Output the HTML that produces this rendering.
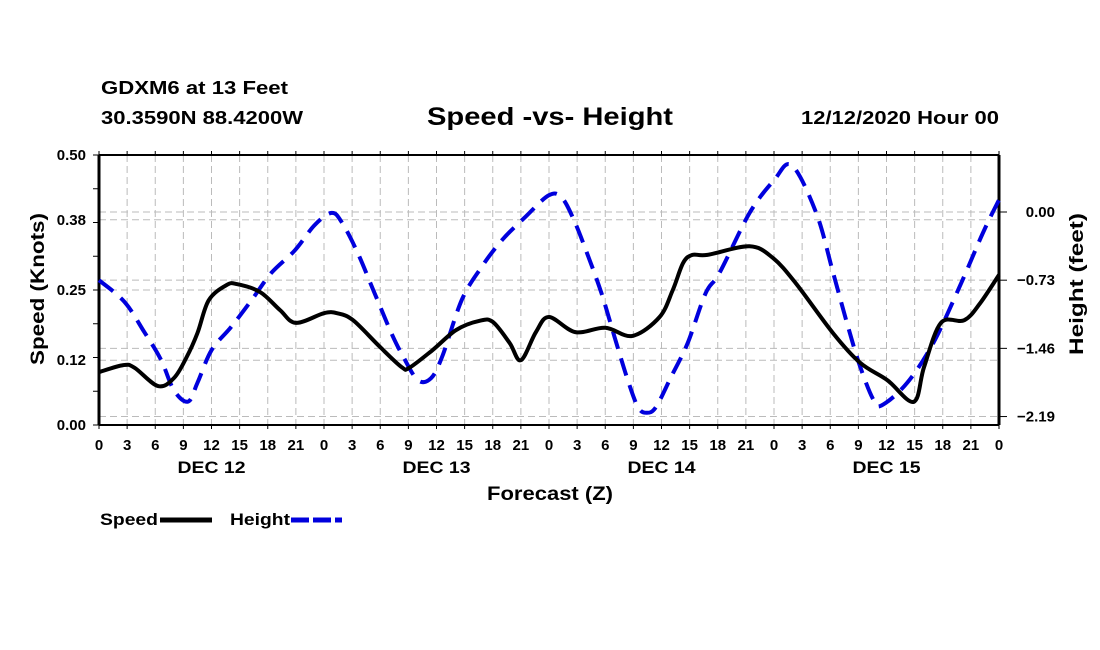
<!DOCTYPE html>
<html><head><meta charset="utf-8">
<style>
html,body{margin:0;padding:0;background:#fff;}
svg{display:block;font-family:"Liberation Sans",Arial,sans-serif;}
</style></head>
<body>
<svg id="chart" width="1100" height="650" viewBox="0 0 1100 650">
<g id="grid"></g>
<g id="axes"></g>
<g id="series"></g>
<text x="101" y="94" font-size="18" font-weight="bold" textLength="187" lengthAdjust="spacingAndGlyphs">GDXM6 at 13 Feet</text>
<text x="101" y="124" font-size="18" font-weight="bold" textLength="202" lengthAdjust="spacingAndGlyphs">30.3590N 88.4200W</text>
<text x="427" y="125" font-size="25" font-weight="bold" textLength="246" lengthAdjust="spacingAndGlyphs">Speed -vs- Height</text>
<text x="801" y="124" font-size="18" font-weight="bold" textLength="198" lengthAdjust="spacingAndGlyphs">12/12/2020 Hour 00</text>
<text transform="translate(44,289) rotate(-90)" font-size="19" font-weight="bold" text-anchor="middle" textLength="152" lengthAdjust="spacingAndGlyphs">Speed (Knots)</text>
<text transform="translate(1083,284) rotate(-90)" font-size="19" font-weight="bold" text-anchor="middle" textLength="142" lengthAdjust="spacingAndGlyphs">Height (feet)</text>
<text x="550" y="500" font-size="19" font-weight="bold" text-anchor="middle" textLength="126" lengthAdjust="spacingAndGlyphs">Forecast (Z)</text>
<g>
<text x="100" y="525" font-size="17" font-weight="bold" textLength="58" lengthAdjust="spacingAndGlyphs">Speed</text>
<line x1="160" y1="520" x2="212" y2="520" stroke="#000" stroke-width="5"/>
<text x="230" y="525" font-size="17" font-weight="bold" textLength="60" lengthAdjust="spacingAndGlyphs">Height</text>
<line x1="291" y1="520" x2="342" y2="520" stroke="#0000dd" stroke-width="5" stroke-dasharray="18 4"/>
</g>
</svg>
<script>
const speedHours = [0,2.6,3.8,6.3,8,9.3,10.5,11.7,13.6,14.7,17.2,19.3,21,24,25.4,27.1,30,32.3,33.1,35.6,38.1,40.6,42,43.8,45,46.6,48,50.8,54,56.9,59.8,61.2,62.3,63.3,64.9,69.4,71.9,74.3,78.3,81.2,84.1,86.9,88,89.8,92.3,94,96];
const speedValues = [0.098,0.111,0.106,0.072,0.087,0.124,0.170,0.231,0.259,0.261,0.246,0.213,0.189,0.207,0.207,0.194,0.144,0.107,0.106,0.139,0.176,0.193,0.191,0.152,0.120,0.172,0.200,0.172,0.180,0.165,0.200,0.250,0.300,0.315,0.315,0.331,0.309,0.263,0.170,0.115,0.083,0.043,0.107,0.189,0.194,0.226,0.278];
const heightHours = [0,2.7,4.8,6.6,8,9.5,10.5,12,14.1,16.3,18.4,20.9,23,24.8,25.9,27.6,29.4,31.2,32.4,34,35.4,36.6,38.7,40.8,43,45.5,48,49.4,50.8,52.2,53.6,55,56.4,57.5,58.4,59.4,61,62.8,64.7,66.2,69.4,72,73.9,76.5,78.3,79.9,81.2,82.6,83.5,86.2,89,91.8,94.3,96];
const heightValues = [-0.73,-0.96,-1.28,-1.58,-1.91,-2.03,-1.83,-1.48,-1.23,-0.94,-0.65,-0.41,-0.14,-0.01,-0.11,-0.44,-0.87,-1.30,-1.54,-1.80,-1.78,-1.55,-0.94,-0.59,-0.30,-0.05,0.18,0.15,-0.12,-0.48,-0.87,-1.34,-1.80,-2.09,-2.15,-2.09,-1.77,-1.40,-0.87,-0.65,-0.01,0.34,0.50,-0.01,-0.65,-1.23,-1.66,-2.01,-2.07,-1.83,-1.40,-0.80,-0.22,0.13];
const leftTicks = [0.00,0.12,0.25,0.38,0.50];
const leftTickLabels = ["0.00","0.12","0.25","0.38","0.50"];
const rightTicks = [0.00,-0.73,-1.46,-2.19];
const rightTickLabels = ["0.00","\u22120.73","\u22121.46","\u22122.19"];
const xTickLabels = ["0","3","6","9","12","15","18","21","0","3","6","9","12","15","18","21","0","3","6","9","12","15","18","21","0","3","6","9","12","15","18","21","0"];
const dayLabels = ["DEC 12","DEC 13","DEC 14","DEC 15"];

const NS='http://www.w3.org/2000/svg';
const X0=99,X1=999,Y0=155,Y1=425;
const xs=h=>X0+(X1-X0)*h/96;
const ys=v=>Y1-(Y1-Y0)*v/0.5;
const yh=f=>212-93.4*f;
function mk(tag,attrs,parent){const e=document.createElementNS(NS,tag);for(const k in attrs)e.setAttribute(k,attrs[k]);parent.appendChild(e);return e;}
const grid=document.getElementById('grid'),axes=document.getElementById('axes'),series=document.getElementById('series');

for(let i=1;i<32;i++){
  const l=mk('line',{x1:xs(i*3),x2:xs(i*3),y1:Y0,y2:Y1,stroke:'#bbb','stroke-width':1,'stroke-dasharray':'7 4'},grid);
  
  
}
leftTicks.forEach(v=>{if(v>0&&v<0.5){const l=mk('line',{x1:X0,x2:X1,y1:ys(v),y2:ys(v),stroke:'#bbb','stroke-width':1,'stroke-dasharray':'7 4'},grid);
  
  }});
rightTicks.forEach(v=>{const l=mk('line',{x1:X0,x2:X1,y1:yh(v),y2:yh(v),stroke:'#bbb','stroke-width':1,'stroke-dasharray':'7 4'},grid);
  
  });

let f=mk('line',{x1:X0,x2:X1,y1:Y0,y2:Y0,stroke:'#000','stroke-width':2},axes);

f=mk('line',{x1:X0,x2:X1,y1:Y1,y2:Y1,stroke:'#000','stroke-width':2},axes);

f=mk('line',{x1:X0,x2:X0,y1:Y0,y2:Y1,stroke:'#000','stroke-width':3},axes);

f=mk('line',{x1:X1,x2:X1,y1:Y0,y2:Y1,stroke:'#000','stroke-width':3},axes);


for(let i=0;i<=8;i++){const v=i*0.0625;mk('line',{x1:X0-6,x2:X0,y1:ys(v),y2:ys(v),stroke:'#000','stroke-width':1},axes);}
leftTicks.forEach((v,i)=>{
  const t=mk('text',{x:X0-13,y:ys(v)+5,'font-size':15,'font-weight':'bold','text-anchor':'end'},axes);
  t.textContent=leftTickLabels[i];
  
  
});
rightTicks.forEach((v,i)=>{
  mk('line',{x1:X1,x2:X1+8,y1:yh(v),y2:yh(v),stroke:'#000','stroke-width':1},axes);
  const t=mk('text',{x:X1+56,y:yh(v)+5,'font-size':15,'font-weight':'bold','text-anchor':'end'},axes);
  t.textContent=rightTickLabels[i];
  
  
});
xTickLabels.forEach((s,i)=>{
  const x=xs(i*3);
  mk('line',{x1:x,x2:x,y1:Y0,y2:Y0-4,stroke:'#000','stroke-width':1},axes);
  mk('line',{x1:x,x2:x,y1:Y1,y2:Y1+4,stroke:'#000','stroke-width':1},axes);
  const t=mk('text',{x:x,y:450,'font-size':15,'font-weight':'bold','text-anchor':'middle'},axes);
  t.textContent=s;
  
  
});
dayLabels.forEach((s,i)=>{
  const t=mk('text',{x:xs(12+24*i),y:473,'font-size':17,'font-weight':'bold','text-anchor':'middle',textLength:68,lengthAdjust:'spacingAndGlyphs'},axes);
  t.textContent=s;
  
  
});

function smooth(pts){
  let d='M'+pts[0][0].toFixed(1)+','+pts[0][1].toFixed(1);
  for(let i=0;i<pts.length-1;i++){
    const p0=pts[i-1]||pts[i],p1=pts[i],p2=pts[i+1],p3=pts[i+2]||p2;
    const c1=[p1[0]+(p2[0]-p0[0])/6,p1[1]+(p2[1]-p0[1])/6];
    const c2=[p2[0]-(p3[0]-p1[0])/6,p2[1]-(p3[1]-p1[1])/6];
    d+='C'+c1.map(n=>n.toFixed(1)).join(',')+' '+c2.map(n=>n.toFixed(1)).join(',')+' '+p2[0].toFixed(1)+','+p2[1].toFixed(1);
  }
  return d;
}
const hp=heightHours.map((h,i)=>[xs(h),yh(heightValues[i])]);
const hl=mk('path',{d:smooth(hp),fill:'none',stroke:'#0000dd','stroke-width':4,'stroke-dasharray':'18 10'},series);


const sp=speedHours.map((h,i)=>[xs(h),ys(speedValues[i])]);
const sl=mk('path',{d:smooth(sp),fill:'none',stroke:'#000','stroke-width':4,'stroke-linejoin':'round'},series);


</script>
</body></html>
